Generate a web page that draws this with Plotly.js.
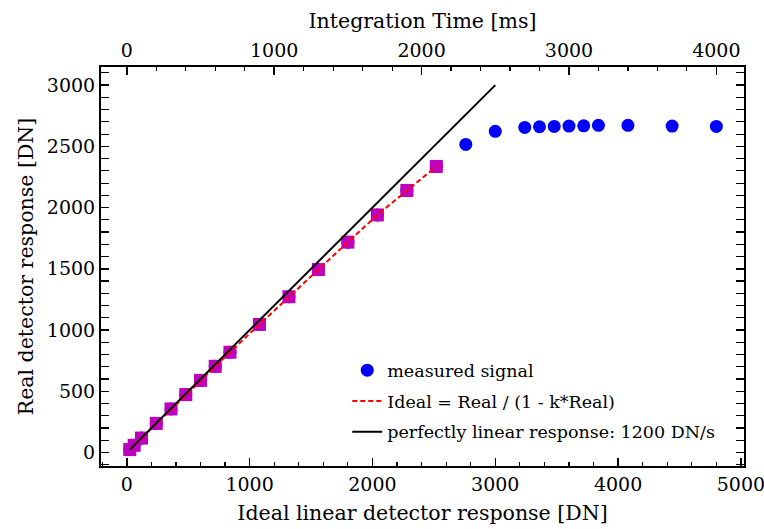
<!DOCTYPE html>
<html>
<head>
<meta charset="utf-8">
<script src="https://cdn.plot.ly/plotly-3.0.1.min.js"></script>
<style>html,body{margin:0;padding:0;background:#fff;}#chart{width:764px;height:529px;}</style>
</head>
<body>
<div id="chart"></div>
<script>
// Integration times [ms] of the measurements
const timeMs = [20, 50, 100, 200, 300, 400, 500, 600, 700, 900, 1100, 1300, 1500, 1700, 1900, 2100,
                2300, 2500, 2700, 2800, 2900, 3000, 3100, 3200, 3400, 3700, 4000];
// Ideal linear response [DN] (x values)
const idealDN = [24, 60, 120, 240, 360, 480, 600, 720, 840, 1080, 1320, 1560, 1800, 2040, 2280, 2520,
                 2760, 3000, 3240, 3360, 3480, 3600, 3720, 3840, 4080, 4440, 4800];
// Measured (real) detector response [DN]
const realDN = [24, 59, 118, 238, 356, 473, 589, 704, 819, 1046, 1272, 1494, 1718, 1940, 2140, 2336,
                2516, 2623, 2655, 2660, 2663, 2666, 2668, 2672, 2672, 2666, 2663];
// Points used for the non-linearity fit (first 16 measurements)
const fitIdeal = [24, 60, 120, 240, 360, 480, 600, 720, 840, 1080, 1320, 1560, 1800, 2040, 2280, 2520];
const fitReal  = [24, 59, 118, 238, 356, 473, 589, 704, 819, 1046, 1272, 1494, 1718, 1940, 2140, 2336];
// Perfectly linear response line endpoints
const linX = [24, 3000];
const linY = [24, 3000];

const FONT = 'DejaVu Serif';
const TICK = 19;
const TITLE = 20.5;

const traces = [
  {x: idealDN, y: realDN, type: 'scatter', mode: 'markers', name: 'measured signal',
   marker: {color: '#0000ff', size: 13, symbol: 'circle'}, legendrank: 1, legendgroup: 'a'},
  {x: fitIdeal, y: fitReal, type: 'scatter', mode: 'markers', showlegend: false,
   marker: {color: '#bf00bf', size: 13, symbol: 'square', line: {width: 0}}},
  {x: fitIdeal, y: fitReal, type: 'scatter', mode: 'lines', name: 'Ideal = Real / (1 - k*Real)',
   line: {color: '#ff0000', width: 2, dash: '5px,3px'}, legendrank: 2, legendgroup: 'b'},
  {x: linX, y: linY, type: 'scatter', mode: 'lines', name: 'perfectly linear response: 1200 DN/s',
   line: {color: '#000000', width: 2}, legendrank: 3, legendgroup: 'c'},
  // invisible trace to activate the top axis
  {x: [0, 4000], y: [0, 0], xaxis: 'x2', type: 'scatter', mode: 'markers', showlegend: false,
   marker: {opacity: 0}, hoverinfo: 'skip'}
];

const xr = [-210, 5025];
const axisCommon = {
  showgrid: false, zeroline: false, showline: true, linecolor: '#000', linewidth: 2,
  ticks: 'inside', ticklen: 8, tickwidth: 1.5, tickcolor: '#000', ticklabeloverflow: 'allow',
  tickfont: {family: FONT, size: TICK, color: '#000'}
};

const layout = {
  width: 764, height: 529,
  margin: {l: 101, r: 20, t: 67, b: 63},
  paper_bgcolor: '#fff', plot_bgcolor: '#fff',
  font: {family: FONT, color: '#000'},
  showlegend: true,
  legend: {x: 0.383, y: 0.285, xanchor: 'left', yanchor: 'top', bgcolor: 'rgba(0,0,0,0)',
           font: {family: FONT, size: 17.5, color: '#000'}, traceorder: 'grouped', tracegroupgap: 5},
  xaxis: Object.assign({}, axisCommon, {
    range: xr, dtick: 1000, tick0: 0, mirror: false,
    minor: {dtick: 200, ticklen: 4, tickwidth: 1.2, tickcolor: '#000', ticks: 'inside'},
    title: {text: 'Ideal linear detector response [DN]', font: {family: FONT, size: TITLE, color: '#000'}, standoff: 12}
  }),
  xaxis2: Object.assign({}, axisCommon, {
    overlaying: 'x', side: 'top', anchor: 'y',
    range: [xr[0] / 1.2, xr[1] / 1.2], dtick: 1000, tick0: 0,
    minor: {dtick: 200, ticklen: 4, tickwidth: 1.2, tickcolor: '#000', ticks: 'inside'},
    title: {text: 'Integration Time [ms]', font: {family: FONT, size: TITLE, color: '#000'}, standoff: 5}
  }),
  yaxis: Object.assign({}, axisCommon, {
    range: [-110, 3148], dtick: 500, tick0: 0, mirror: 'allticks',
    minor: {dtick: 100, ticklen: 4, tickwidth: 1.2, tickcolor: '#000', ticks: 'inside'},
    title: {text: 'Real detector response [DN]', font: {family: FONT, size: TITLE, color: '#000'}, standoff: 8}
  })
};

Plotly.newPlot('chart', traces, layout, {staticPlot: true, displayModeBar: false});
</script>
</body>
</html>
